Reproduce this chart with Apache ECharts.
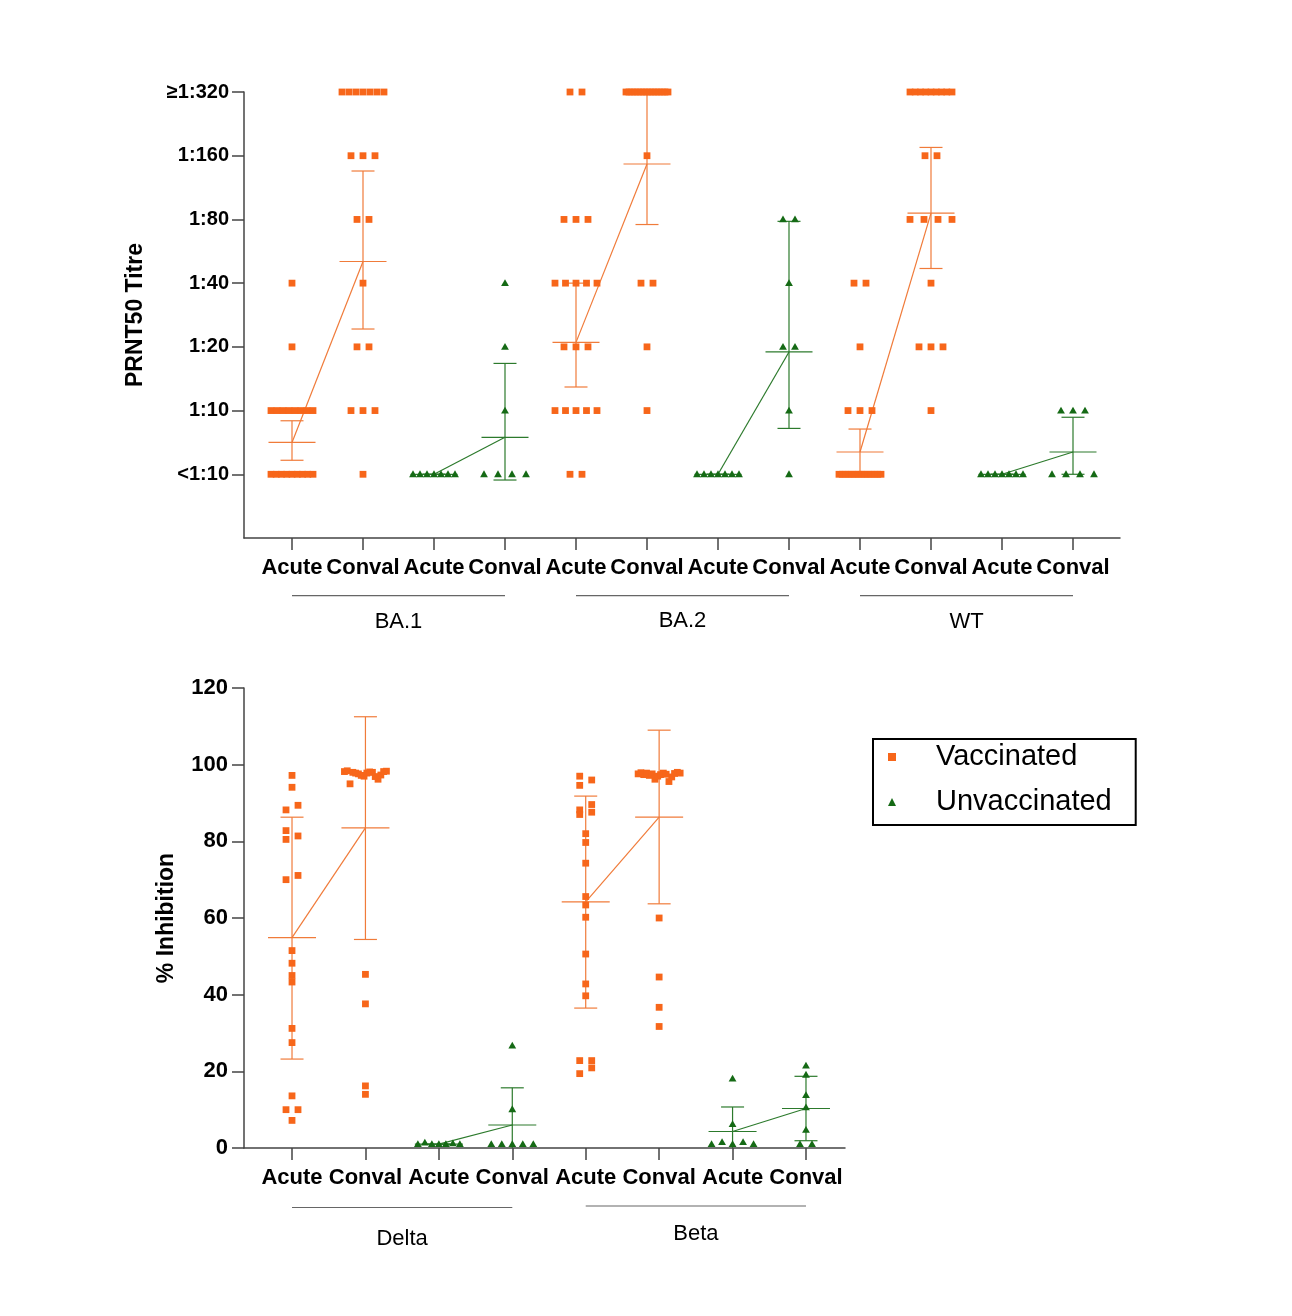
<!DOCTYPE html>
<html>
<head>
<meta charset="utf-8">
<script src="https://cdn.jsdelivr.net/npm/echarts@6/dist/echarts.min.js"></script>
<style>html,body{margin:0;padding:0;background:#fff}#c{width:1292px;height:1316px}</style>
</head>
<body>
<div id="c"></div>
<script>
// ---------------- DATA ----------------
// Top panel: PRNT50 titre, coded as level index (0 = <1:10 ... 6 = >=1:320)
const titreLabels = ['<1:10', '1:10', '1:20', '1:40', '1:80', '1:160', '≥1:320'];
const topCategories = ['Acute','Conval','Acute','Conval','Acute','Conval','Acute','Conval','Acute','Conval','Acute','Conval'];
const topGroups = ['BA.1', 'BA.2', 'WT'];

const ba1AcuteVacc   = [3,2,1,1,1,1,1,1,1,1,0,0,0,0,0,0,0,0,0];
const ba1ConvalVacc  = [6,6,6,6,6,6,6,5,5,5,4,4,3,2,2,1,1,1,0];
const ba1AcuteUnvacc = [0,0,0,0,0,0,0];
const ba1ConvalUnvacc= [3,2,1,0,0,0,0];
const ba2AcuteVacc   = [6,6,4,4,4,3,3,3,3,3,2,2,2,1,1,1,1,1,0,0];
const ba2ConvalVacc  = [6,6,6,6,6,6,6,6,6,6,6,6,6,6,6,5,3,3,2,1];
const ba2AcuteUnvacc = [0,0,0,0,0,0,0];
const ba2ConvalUnvacc= [4,4,3,2,2,1,0];
const wtAcuteVacc    = [3,3,2,1,1,1,0,0,0,0,0,0,0,0,0,0,0,0,0,0];
const wtConvalVacc   = [6,6,6,6,6,6,6,6,6,5,5,4,4,4,4,3,2,2,2,1];
const wtAcuteUnvacc  = [0,0,0,0,0,0,0];
const wtConvalUnvacc = [1,1,1,0,0,0,0];

// group means and error bars (level units)
const topVaccMean   = [0.50, 3.34, 2.07, 4.87, 0.35, 4.10];
const topVaccLow    = [0.22, 2.28, 1.37, 3.92, 0.00, 3.23];
const topVaccHigh   = [0.84, 4.76, 3.00, 6.00, 0.71, 5.13];
const topUnvaccMean = [0.00, 0.58, 0.00, 1.92, 0.00, 0.35];
const topUnvaccLow  = [0.00, -0.09, 0.00, 0.72, 0.00, 0.00];
const topUnvaccHigh = [0.00, 1.74, 0.00, 3.97, 0.00, 0.895];

// Bottom panel: % inhibition
const bottomCategories = ['Acute','Conval','Acute','Conval','Acute','Conval','Acute','Conval'];
const bottomGroups = ['Delta', 'Beta'];
const inhibitionTicks = [0, 20, 40, 60, 80, 100, 120];

const deltaAcuteVacc   = [97.2, 94.1, 88.2, 89.4, 82.8, 81.4, 80.5, 70.0, 71.1, 51.5, 48.2, 45.0, 43.3, 31.2, 27.5, 13.6, 10.0, 10.0, 7.2];
const deltaConvalVacc  = [98.2, 98.4, 95.0, 98.0, 97.8, 97.6, 97.2, 97.0, 97.8, 98.1, 98.0, 96.9, 96.2, 97.3, 98.2, 98.3, 45.3, 37.6, 16.2, 14.0];
const deltaAcuteUnvacc = [1.0, 1.4, 1.0, 1.0, 1.0, 1.2, 1.0];
const deltaConvalUnvacc= [1.0, 1.0, 1.0, 1.0, 1.0, 10.1, 26.7];
const betaAcuteVacc    = [97.0, 96.0, 94.6, 88.2, 89.6, 87.0, 87.6, 82.0, 79.7, 74.3, 65.6, 63.4, 60.2, 50.6, 42.8, 39.7, 22.8, 22.8, 19.4, 20.9];
const betaConvalVacc   = [97.6, 97.9, 97.4, 97.8, 97.2, 97.6, 96.2, 97.0, 97.4, 97.8, 97.5, 95.6, 96.8, 97.7, 98.0, 97.8, 60.0, 44.6, 36.7, 31.7];
const betaAcuteUnvacc  = [1.0, 1.5, 1.0, 1.5, 1.0, 6.2, 18.1];
const betaConvalUnvacc = [1.0, 1.0, 4.7, 10.6, 13.8, 19.1, 21.5];

const botVaccMean   = [54.9, 83.5, 64.2, 86.3];
const botVaccLow    = [23.2, 54.4, 36.5, 63.7];
const botVaccHigh   = [86.3, 112.5, 91.8, 109.0];
const botUnvaccMean = [1.0, 6.0, 4.3, 10.3];
const botUnvaccLow  = [1.0, -3.7, -2.1, 1.9];
const botUnvaccHigh = [1.0, 15.7, 10.7, 18.7];

// ---------------- STYLE / LAYOUT ----------------
const FONT = '"Liberation Sans", Arial, Helvetica, sans-serif';
const ORANGE = '#F7661A', GREEN = '#156A15';
const ORANGE_LINE = '#F07B3A', GREEN_LINE = '#2C7A2C';
const AXIS = '#444';
const TOPG = {left: 244, width: 876, top: 92, height: 446, dataLeft: 256.5, dataWidth: 852, min: -1, max: 6};
const BOTG = {left: 244, width: 601, top: 688, height: 460, dataLeft: 255.3, dataWidth: 587.4, min: 0, max: 120};
const SQ = 6.8, TRW = 7.8, TRH = 6.8;

// horizontal spreading of points that would overlap (derived from values)
function layoutOffsets(vals, pxPerUnit) {
  const n = vals.length, off = new Array(n).fill(0);
  const order = vals.map((v, i) => i).sort((a, b) => vals[b] - vals[a] || a - b);
  const clusters = [];
  let cur = [order[0]];
  for (let k = 1; k < n; k++) {
    if ((vals[order[k - 1]] - vals[order[k]]) * pxPerUnit < 6) cur.push(order[k]);
    else { clusters.push(cur); cur = [order[k]]; }
  }
  clusters.push(cur);
  clusters.forEach(c => {
    c.sort((a, b) => a - b);
    const k = c.length;
    if (k === 1) return;
    const allEq = c.every(i => vals[i] === vals[c[0]]);
    if (allEq || k === 2 || k >= 5) {
      const sp = k <= 3 ? 12 : 42 / (k - 1);
      c.forEach((i, j) => { off[i] = (j - (k - 1) / 2) * sp; });
    } else {
      c.forEach((i, j) => { off[i] = j % 2 === 0 ? -6 : 6; });
    }
  });
  return off;
}
function buildPoints(cols, pxPerUnit) {
  const out = [];
  cols.forEach(([c, vals]) => {
    const off = layoutOffsets(vals, pxPerUnit);
    vals.forEach((v, i) => out.push([c, v, off[i]]));
  });
  return out;
}
const topPx = TOPG.height / (TOPG.max - TOPG.min);
const botPx = BOTG.height / (BOTG.max - BOTG.min);

const topVaccIdx = [0, 1, 4, 5, 8, 9], topUnvaccIdx = [2, 3, 6, 7, 10, 11];
const botVaccIdx = [0, 1, 4, 5], botUnvaccIdx = [2, 3, 6, 7];

const topVaccPts = buildPoints([[0, ba1AcuteVacc], [1, ba1ConvalVacc], [4, ba2AcuteVacc], [5, ba2ConvalVacc], [8, wtAcuteVacc], [9, wtConvalVacc]], topPx);
const topUnvaccPts = buildPoints([[2, ba1AcuteUnvacc], [3, ba1ConvalUnvacc], [6, ba2AcuteUnvacc], [7, ba2ConvalUnvacc], [10, wtAcuteUnvacc], [11, wtConvalUnvacc]], topPx);
const botVaccPts = buildPoints([[0, deltaAcuteVacc], [1, deltaConvalVacc], [4, betaAcuteVacc], [5, betaConvalVacc]], botPx);
const botUnvaccPts = buildPoints([[2, deltaAcuteUnvacc], [3, deltaConvalUnvacc], [6, betaAcuteUnvacc], [7, betaConvalUnvacc]], botPx);

function errData(idx, mean, low, high) { return idx.map((c, i) => [c, mean[i], low[i], high[i]]); }

function squareSeries(name, data, xi, yi) {
  return {
    type: 'custom', name, xAxisIndex: xi, yAxisIndex: yi, data, z: 5,
    encode: {x: 0, y: 1}, itemStyle: {color: ORANGE}, clip: false,
    renderItem: (p, api) => {
      const pt = api.coord([api.value(0), api.value(1)]);
      const x = pt[0] + api.value(2);
      return {type: 'rect', shape: {x: x - SQ / 2, y: pt[1] - SQ / 2, width: SQ, height: SQ}, style: {fill: ORANGE}};
    }
  };
}
function triSeries(name, data, xi, yi) {
  return {
    type: 'custom', name, xAxisIndex: xi, yAxisIndex: yi, data, z: 5,
    encode: {x: 0, y: 1}, itemStyle: {color: GREEN}, clip: false,
    renderItem: (p, api) => {
      const pt = api.coord([api.value(0), api.value(1)]);
      const x = pt[0] + api.value(2), y = pt[1];
      return {type: 'polygon', shape: {points: [[x, y - TRH * 0.58], [x - TRW / 2, y + TRH * 0.42], [x + TRW / 2, y + TRH * 0.42]]}, style: {fill: GREEN}};
    }
  };
}
function errSeries(name, data, xi, yi, color, meanW, capW) {
  return {
    type: 'custom', name, xAxisIndex: xi, yAxisIndex: yi, data, z: 3, clip: true,
    encode: {x: 0, y: 1},
    renderItem: (p, api) => {
      const c = api.value(0);
      const m = api.coord([c, api.value(1)]), lo = api.coord([c, api.value(2)]), hi = api.coord([c, api.value(3)]);
      const st = {stroke: color, lineWidth: 1.2, fill: null};
      const x = m[0];
      return {type: 'group', children: [
        {type: 'line', shape: {x1: x, y1: lo[1], x2: x, y2: hi[1]}, style: st},
        {type: 'line', shape: {x1: x - capW / 2, y1: lo[1], x2: x + capW / 2, y2: lo[1]}, style: st},
        {type: 'line', shape: {x1: x - capW / 2, y1: hi[1], x2: x + capW / 2, y2: hi[1]}, style: st},
        {type: 'line', shape: {x1: x - meanW / 2, y1: m[1], x2: x + meanW / 2, y2: m[1]}, style: st}
      ]};
    }
  };
}
function meanLines(idx, mean, xi, yi, color) {
  const s = [];
  for (let i = 0; i < idx.length; i += 2) {
    s.push({type: 'line', xAxisIndex: xi, yAxisIndex: yi, data: [[idx[i], mean[i]], [idx[i + 1], mean[i + 1]]],
      symbol: 'none', z: 3, silent: true, lineStyle: {color, width: 1.2}});
  }
  return s;
}

const hiddenAxis = (gi, min, max) => ({gridIndex: gi, type: 'value', min, max, show: false, splitLine: {show: false}});
const frameX = gi => ({gridIndex: gi, type: 'value', min: 0, max: 1, axisLine: {show: true, onZero: false, lineStyle: {color: AXIS, width: 1.5}},
  axisTick: {show: false}, axisLabel: {show: false}, splitLine: {show: false}});
const catX = (gi, data) => ({gridIndex: gi, type: 'category', data, boundaryGap: true,
  axisLine: {show: false, onZero: false}, axisTick: {show: true, alignWithLabel: true, length: 12, lineStyle: {color: AXIS, width: 1.5}},
  axisLabel: {interval: 0, margin: 19, fontFamily: FONT, fontWeight: 'bold', fontSize: 22, color: '#000'}, splitLine: {show: false}});

const option = {
  backgroundColor: '#fff',
  animation: false,
  grid: [
    {left: TOPG.left, width: TOPG.width, top: TOPG.top, height: TOPG.height, outerBoundsMode: 'none'},
    {left: TOPG.dataLeft, width: TOPG.dataWidth, top: TOPG.top, height: TOPG.height, outerBoundsMode: 'none'},
    {left: BOTG.left, width: BOTG.width, top: BOTG.top, height: BOTG.height, outerBoundsMode: 'none'},
    {left: BOTG.dataLeft, width: BOTG.dataWidth, top: BOTG.top, height: BOTG.height, outerBoundsMode: 'none'}
  ],
  xAxis: [frameX(0), catX(1, topCategories), frameX(2), catX(3, bottomCategories)],
  yAxis: [
    {gridIndex: 0, type: 'value', min: TOPG.min, max: TOPG.max, interval: 1,
      axisLine: {show: true, onZero: false, lineStyle: {color: AXIS, width: 1.5}},
      axisTick: {show: true, length: 12, customValues: titreLabels.map((t, i) => i), lineStyle: {color: AXIS, width: 1.5}},
      axisLabel: {margin: 15, fontFamily: FONT, fontWeight: 'bold', fontSize: 20, color: '#000',
        formatter: v => (titreLabels[v] !== undefined ? titreLabels[v] : '')},
      splitLine: {show: false},
      name: 'PRNT50 Titre', nameLocation: 'middle', nameRotate: 90, nameGap: 97,
      nameTextStyle: {fontFamily: FONT, fontWeight: 'bold', fontSize: 23, color: '#000'}},
    hiddenAxis(1, TOPG.min, TOPG.max),
    {gridIndex: 2, type: 'value', min: BOTG.min, max: BOTG.max, interval: inhibitionTicks[1] - inhibitionTicks[0],
      axisLine: {show: true, onZero: false, lineStyle: {color: AXIS, width: 1.5}},
      axisTick: {show: true, length: 12, lineStyle: {color: AXIS, width: 1.5}},
      axisLabel: {margin: 16, fontFamily: FONT, fontWeight: 'bold', fontSize: 22, color: '#000'},
      splitLine: {show: false},
      name: '% Inhibition', nameLocation: 'middle', nameRotate: 90, nameGap: 66,
      nameTextStyle: {fontFamily: FONT, fontWeight: 'bold', fontSize: 23, color: '#000'}},
    hiddenAxis(3, BOTG.min, BOTG.max)
  ],
  legend: {
    data: [{name: 'Vaccinated', icon: 'rect'}, {name: 'Unvaccinated', icon: 'triangle'}],
    orient: 'vertical', left: 873, top: 739, itemWidth: 8, itemHeight: 8, itemGap: 15,
    padding: [3, 24, 8, 15], borderColor: '#000', borderWidth: 2, selectedMode: false,
    textStyle: {fontFamily: FONT, fontSize: 29, color: '#000', lineHeight: 30, padding: [0, 0, 0, 35]}
  },
  series: [
    errSeries('topVaccErr', errData(topVaccIdx, topVaccMean, topVaccLow, topVaccHigh), 1, 1, ORANGE_LINE, 47, 23),
    errSeries('topUnvaccErr', errData(topUnvaccIdx, topUnvaccMean, topUnvaccLow, topUnvaccHigh), 1, 1, GREEN_LINE, 47, 23),
    ...meanLines(topVaccIdx, topVaccMean, 1, 1, ORANGE_LINE),
    ...meanLines(topUnvaccIdx, topUnvaccMean, 1, 1, GREEN_LINE),
    squareSeries('Vaccinated', topVaccPts, 1, 1),
    triSeries('Unvaccinated', topUnvaccPts, 1, 1),
    errSeries('botVaccErr', errData(botVaccIdx, botVaccMean, botVaccLow, botVaccHigh), 3, 3, ORANGE_LINE, 48, 23),
    errSeries('botUnvaccErr', errData(botUnvaccIdx, botUnvaccMean, botUnvaccLow, botUnvaccHigh), 3, 3, GREEN_LINE, 48, 23),
    ...meanLines(botVaccIdx, botVaccMean, 3, 3, ORANGE_LINE),
    ...meanLines(botUnvaccIdx, botUnvaccMean, 3, 3, GREEN_LINE),
    squareSeries('Vaccinated', botVaccPts, 3, 3),
    triSeries('Unvaccinated', botUnvaccPts, 3, 3)
  ]
};

const chart = echarts.init(document.getElementById('c'), null, {renderer: 'canvas'});
chart.setOption(option);

// group brackets under category pairs, positioned from the axes
function groupGraphics(groups, xi, yi, yMin, lineDy, labelDys) {
  const g = [];
  const axisY = chart.convertToPixel({yAxisIndex: yi}, yMin);
  groups.forEach((name, k) => {
    const x1 = chart.convertToPixel({xAxisIndex: xi}, 4 * k);
    const x2 = chart.convertToPixel({xAxisIndex: xi}, 4 * k + 3);
    g.push({type: 'line', shape: {x1, y1: axisY + lineDy[k], x2, y2: axisY + lineDy[k]}, style: {stroke: '#666', lineWidth: 1.2}});
    g.push({type: 'text', x: (x1 + x2) / 2, y: axisY + labelDys[k],
      style: {text: name, fontFamily: FONT, fontSize: 22, fill: '#000', align: 'center', verticalAlign: 'middle'}});
  });
  return g;
}
chart.setOption({graphic: [
  ...groupGraphics(topGroups, 1, 1, TOPG.min, [57.7, 57.7, 57.7], [84, 83, 84]),
  ...groupGraphics(bottomGroups, 3, 3, BOTG.min, [59.5, 58], [91, 86])
]});
</script>
</body>
</html>
